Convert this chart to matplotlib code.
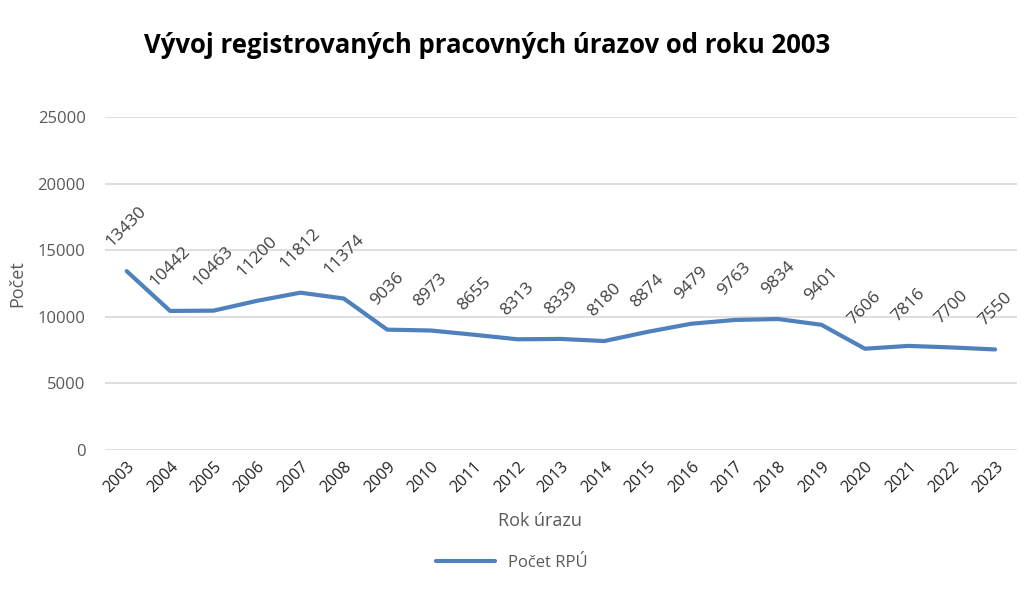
import matplotlib.pyplot as plt

# Data
years = [str(y) for y in range(2003, 2024)]
counts = [13430, 10442, 10463, 11200, 11812, 11374, 9036, 8973, 8655, 8313,
          8339, 8180, 8874, 9479, 9763, 9834, 9401, 7606, 7816, 7700, 7550]
y_ticks = [0, 5000, 10000, 15000, 20000, 25000]

plt.rcParams['font.family'] = ['Open Sans', 'DejaVu Sans']

fig = plt.figure(figsize=(10.24, 5.94), dpi=100)
ax = fig.add_axes([0.1025, 0.2424, 0.8905, 0.5606])

x = list(range(len(years)))
ax.plot(x, counts, color='#4F81BD', linewidth=3, solid_capstyle='round',
        label='Počet RPÚ')

for xi, v in zip(x, counts):
    ax.annotate(str(v), (xi, v), xytext=(0, 15), textcoords='offset points',
                rotation=45, ha='center', va='bottom', fontsize=12.5,
                color='#404040')

ax.set_xlim(-0.5, len(years) - 0.5)
ax.set_ylim(0, 25000)
ax.set_yticks(y_ticks)
ax.set_xticks(x)
ax.set_xticklabels(years, rotation=45, ha='right', rotation_mode='anchor',
                   fontsize=11.5, color='#202020')
ax.tick_params(axis='y', labelsize=12, colors='#595959', length=0, pad=14)
ax.tick_params(axis='x', length=0, pad=6)
ax.grid(axis='y', color='#D9D9D9', linewidth=1.2)
ax.set_axisbelow(True)
for s in ax.spines.values():
    s.set_visible(False)

ax.set_ylabel('Počet', fontsize=13, color='#595959', labelpad=8)
fig.text(0.527, 0.123, 'Rok úrazu', fontsize=13, color='#595959',
         ha='center', va='center')
fig.text(0.476, 0.924, 'Vývoj registrovaných pracovných úrazov od roku 2003',
         fontsize=18.5, fontweight='bold', ha='center', va='center')

fig.legend(loc='center', bbox_to_anchor=(0.5, 0.052), frameon=False,
           fontsize=12, labelcolor='#595959', handlelength=3.5)

fig.savefig('out.png', dpi=100, facecolor='white')
